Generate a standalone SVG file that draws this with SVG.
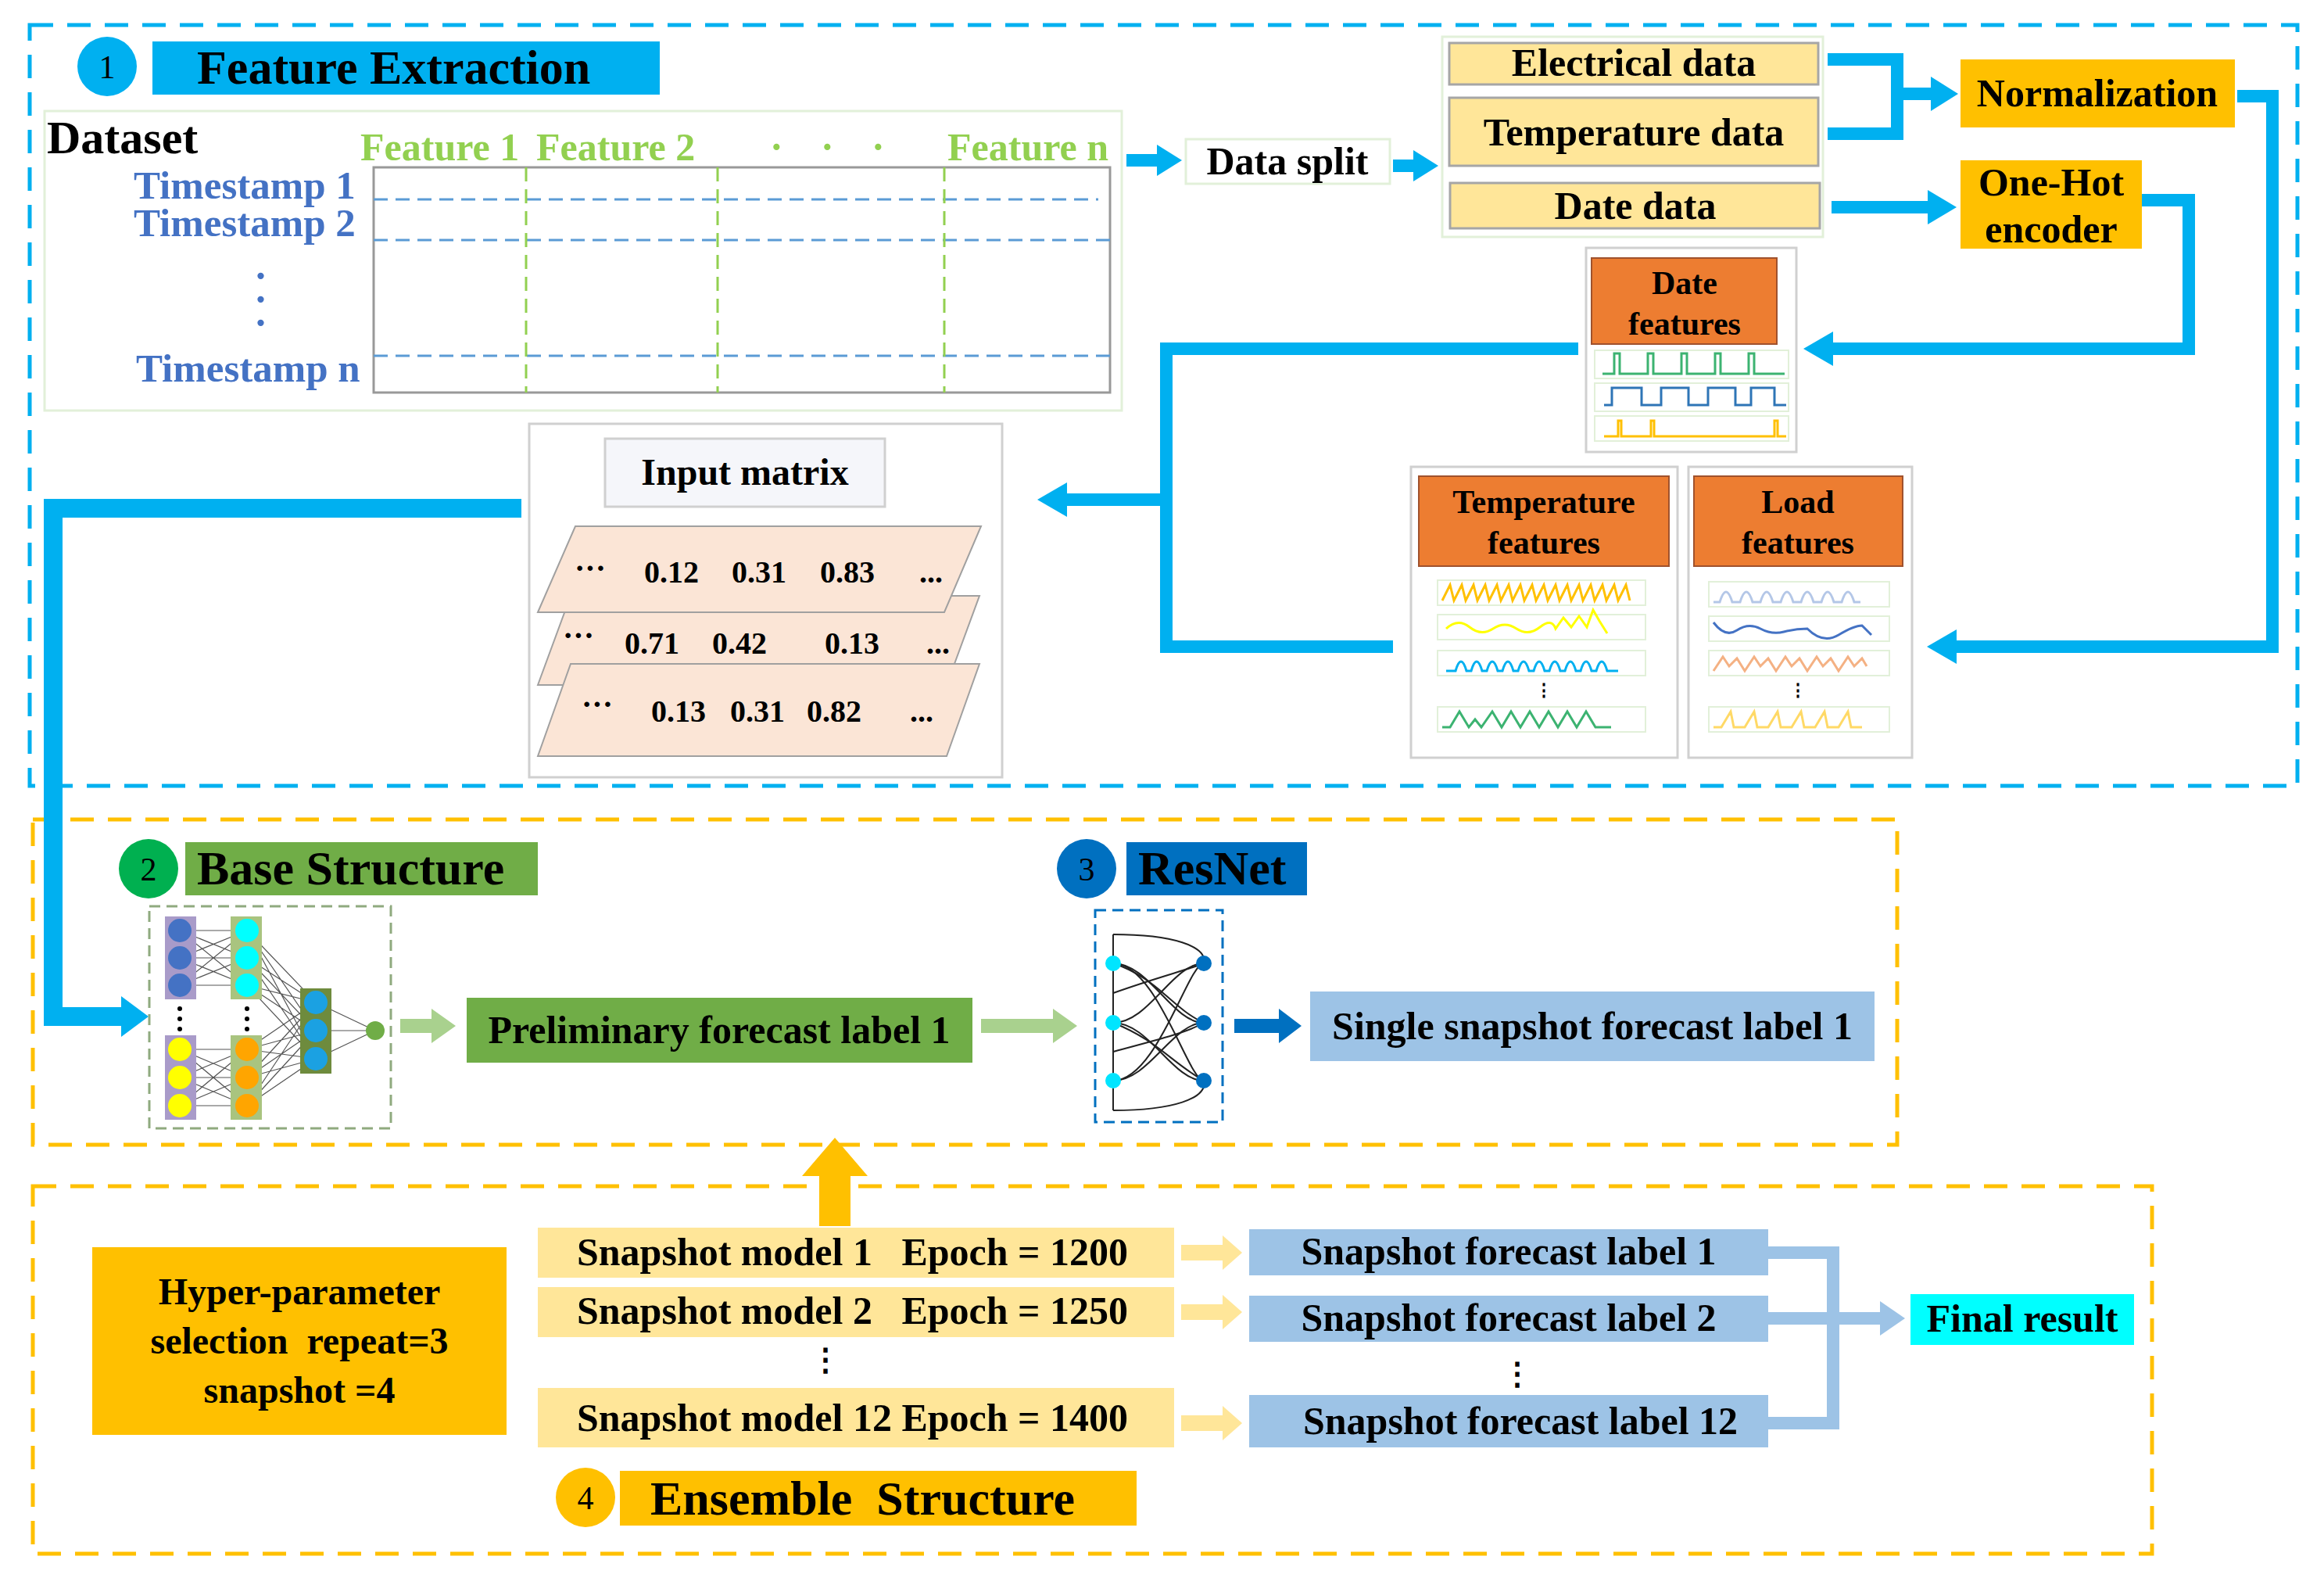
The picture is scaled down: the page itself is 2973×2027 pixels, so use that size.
<svg xmlns="http://www.w3.org/2000/svg" width="2973" height="2027" viewBox="0 0 2973 2027">
<style>
text{font-family:"Liberation Serif","Times New Roman",serif;font-weight:bold;fill:#000}
.lbl{font-size:50px;text-anchor:middle}
.hdr{font-size:62px}
.num{font-size:42px;font-weight:normal;text-anchor:middle}
.ts{font-size:51px;fill:#4472C4}
.ft{font-size:50px;fill:#92D050}
.mx{font-size:40px;text-anchor:middle}
.blue{fill:none;stroke:#00B0F0;stroke-width:16}
.bh{fill:#00B0F0}
.panel{fill:#fff;stroke:#D0D0D0;stroke-width:3}
.wbox{fill:#fff;stroke:#E2F0D9;stroke-width:2}
.w{fill:none;stroke-width:3}
.nn{stroke:#555;stroke-width:1.2}
</style>
<rect width="2973" height="2027" fill="#fff"/>

<!-- section frames -->
<rect x="38" y="32" width="2901" height="973" fill="none" stroke="#00B0F0" stroke-width="5" stroke-dasharray="30,18"/>
<rect x="42" y="1048" width="2385" height="416" fill="none" stroke="#FFC000" stroke-width="5" stroke-dasharray="30,18"/>
<rect x="42" y="1517" width="2711" height="470" fill="none" stroke="#FFC000" stroke-width="5" stroke-dasharray="30,18"/>

<!-- headers -->
<g id="hdr1"><circle cx="137" cy="85" r="38" fill="#00B0F0"/><text class="num" x="137" y="100">1</text>
<rect x="195" y="53" width="649" height="68" fill="#00B0F0"/><text class="hdr" x="252" y="107">Feature Extraction</text></g>
<g id="hdr2"><circle cx="190" cy="1111" r="38" fill="#00B050"/><text class="num" x="190" y="1126">2</text>
<rect x="237" y="1077" width="451" height="68" fill="#70AD47"/><text class="hdr" x="252" y="1131">Base Structure</text></g>
<g id="hdr3"><circle cx="1390" cy="1111" r="38" fill="#0070C0"/><text class="num" x="1390" y="1126">3</text>
<rect x="1441" y="1077" width="231" height="68" fill="#0070C0"/><text class="hdr" x="1456" y="1131">ResNet</text></g>
<g id="hdr4"><circle cx="749" cy="1915" r="38" fill="#FFC000"/><text class="num" x="749" y="1930">4</text>
<rect x="793" y="1881" width="661" height="70" fill="#FFC000"/><text class="hdr" x="832" y="1937" xml:space="preserve">Ensemble  Structure</text></g>

<!-- dataset -->
<g id="dataset">
<rect x="57" y="142" width="1378" height="383" fill="#fff" stroke="#E2F0D9" stroke-width="3"/>
<text x="60" y="196" style="font-size:60px">Dataset</text>
<text class="ft" x="461" y="205">Feature 1</text>
<text class="ft" x="686" y="205">Feature 2</text>
<text class="ft" x="985" y="205">·</text><text class="ft" x="1050" y="205">·</text><text class="ft" x="1115" y="205">·</text>
<text class="ft" x="1212" y="205">Feature n</text>
<text class="ts" x="171" y="254">Timestamp 1</text>
<text class="ts" x="171" y="302">Timestamp 2</text>
<text class="ts" x="325" y="370">·</text><text class="ts" x="325" y="400">·</text><text class="ts" x="325" y="430">·</text>
<text class="ts" x="174" y="488">Timestamp n</text>
<rect x="478" y="214" width="942" height="288" fill="#fff" stroke="#999" stroke-width="3"/>
<g stroke="#5B9BD5" stroke-width="3" stroke-dasharray="18,10">
<line x1="478" y1="255" x2="1405" y2="255"/><line x1="478" y1="307" x2="1420" y2="307"/><line x1="478" y1="455" x2="1420" y2="455"/></g>
<g stroke="#92D050" stroke-width="3" stroke-dasharray="18,10">
<line x1="673" y1="214" x2="673" y2="502"/><line x1="918" y1="214" x2="918" y2="502"/><line x1="1208" y1="214" x2="1208" y2="502"/></g>
</g>

<g id="datasplit"><rect x="1517" y="178" width="261" height="57" fill="#fff" stroke="#E2F0D9" stroke-width="3"/><text class="lbl" x="1647" y="223">Data split</text></g>

<g id="datagroup">
<rect x="1845" y="47" width="487" height="256" fill="#fff" stroke="#E2F0D9" stroke-width="3"/>
<rect x="1854" y="55" width="472" height="53" fill="#FFE699" stroke="#A6A6A6" stroke-width="3"/><text class="lbl" x="2090" y="97">Electrical data</text>
<rect x="1854" y="125" width="472" height="87" fill="#FFE699" stroke="#A6A6A6" stroke-width="3"/><text class="lbl" x="2090" y="186">Temperature data</text>
<rect x="1855" y="234" width="473" height="58" fill="#FFE699" stroke="#A6A6A6" stroke-width="3"/><text class="lbl" x="2092" y="280">Date data</text>
</g>

<g id="normalization"><rect x="2508" y="76" width="351" height="87" fill="#FFC000"/><text class="lbl" x="2683" y="136">Normalization</text></g>
<g id="onehot"><rect x="2508" y="205" width="232" height="113" fill="#FFC000"/><text class="lbl" x="2624" y="250">One-Hot</text><text class="lbl" x="2624" y="310">encoder</text></g>

<g id="datefeatures">
<rect class="panel" x="2029" y="317" width="269" height="261"/>
<rect x="2036" y="330" width="237" height="110" fill="#ED7D31" stroke="#A0522D" stroke-width="2"/>
<text class="lbl" x="2155" y="376" style="font-size:42px">Date</text><text class="lbl" x="2155" y="428" style="font-size:42px">features</text>
<rect class="wbox" x="2040" y="448" width="248" height="36"/><rect class="wbox" x="2040" y="490" width="248" height="36"/><rect class="wbox" x="2040" y="532" width="248" height="32"/>
<path class="w" stroke="#3CB371" d="M2050,478 H2065 V452 H2072 V478 H2108 V452 H2115 V478 H2151 V452 H2158 V478 H2194 V452 H2201 V478 H2237 V452 H2244 V478 H2283"/>
<path class="w" stroke="#2E75B6" d="M2052,518 H2062 V496 H2100 V518 H2125 V496 H2160 V518 H2185 V496 H2220 V518 H2240 V496 H2270 V518 H2285"/>
<path class="w" stroke="#FFC000" d="M2052,558 H2070 V538 H2074 V558 H2112 V538 H2116 V558 H2270 V538 H2274 V558 H2285"/>
</g>

<g id="tempfeatures">
<rect class="panel" x="1805" y="597" width="341" height="372"/>
<rect x="1815" y="609" width="320" height="115" fill="#ED7D31" stroke="#A0522D" stroke-width="2"/>
<text class="lbl" x="1975" y="656" style="font-size:42px">Temperature</text><text class="lbl" x="1975" y="708" style="font-size:42px">features</text>
<rect class="wbox" x="1839" y="742" width="266" height="32"/><rect class="wbox" x="1839" y="786" width="266" height="32"/><rect class="wbox" x="1839" y="832" width="266" height="32"/><rect class="wbox" x="1839" y="904" width="266" height="32"/>
<path class="w" stroke="#FFC000" d="M1845,768 l10,-20 l5,20 l10,-20 l5,20 l10,-20 l5,20 l10,-20 l5,20 l10,-20 l5,20 l10,-20 l5,20 l10,-20 l5,20 l10,-20 l5,20 l10,-20 l5,20 l10,-20 l5,20 l10,-20 l5,20 l10,-20 l5,20 l10,-20 l5,20 l10,-20 l5,20 l10,-20 l5,20 l10,-20 l5,20"/>
<path class="w" stroke="#FFFF00" d="M1850,804 q15,-14 30,-2 t30,2 t30,0 t30,-2 t20,2 l10,-14 l10,12 l10,-14 l10,14 l8,-22 l8,14 l10,16"/>
<path class="w" stroke="#00B0F0" d="M1850,858 h12 q7,-24 14,0 h6 q7,-24 14,0 h6 q7,-24 14,0 h6 q7,-24 14,0 h6 q7,-24 14,0 h6 q7,-24 14,0 h6 q7,-24 14,0 h6 q7,-24 14,0 h6 q7,-24 14,0 h6 q7,-24 14,0 h14"/>
<text x="1975" y="890" style="font-size:22px;text-anchor:middle">⋮</text>
<path class="w" stroke="#3CB371" d="M1845,930 h10 l12,-20 l12,20 l8,-10 l8,10 l14,-20 l12,20 l12,-20 l12,20 l12,-20 l12,20 l12,-20 l12,20 l12,-20 l12,20 l12,-20 l12,20 h20"/>
</g>

<g id="loadfeatures">
<rect class="panel" x="2160" y="597" width="286" height="372"/>
<rect x="2167" y="609" width="267" height="115" fill="#ED7D31" stroke="#A0522D" stroke-width="2"/>
<text class="lbl" x="2300" y="656" style="font-size:42px">Load</text><text class="lbl" x="2300" y="708" style="font-size:42px">features</text>
<rect class="wbox" x="2186" y="744" width="231" height="32"/><rect class="wbox" x="2186" y="788" width="231" height="32"/><rect class="wbox" x="2186" y="832" width="231" height="32"/><rect class="wbox" x="2186" y="904" width="231" height="32"/>
<path class="w" stroke="#B4C7E7" d="M2192,770 h8 q8,-26 16,0 h10 q8,-26 16,0 h10 q8,-26 16,0 h10 q8,-26 16,0 h10 q8,-26 16,0 h10 q8,-26 16,0 h10 q8,-26 16,0 h8"/>
<path class="w" stroke="#4472C4" d="M2192,796 q15,20 30,10 t30,-2 t30,4 t30,-4 q20,20 40,8 t30,-12 l12,12"/>
<path class="w" stroke="#F4B183" d="M2192,858 l12,-18 l8,12 l10,-10 l10,16 l12,-18 l8,12 l10,-10 l10,16 l12,-18 l8,12 l10,-10 l10,16 l12,-18 l8,12 l10,-10 l10,16 l12,-18 l8,12 l10,-10 l6,10"/>
<text x="2300" y="890" style="font-size:22px;text-anchor:middle">⋮</text>
<path class="w" stroke="#FFD966" d="M2192,930 h10 l12,-20 l4,20 h14 l12,-20 l4,20 h14 l12,-20 l4,20 h14 l12,-20 l4,20 h14 l12,-20 l4,20 h14 l12,-20 l4,20 h14"/>
</g>

<g id="inputmatrix">
<rect class="panel" x="677" y="542" width="605" height="452"/>
<rect x="774" y="561" width="358" height="87" fill="#F5F6FA" stroke="#D0D0D0" stroke-width="3"/>
<text class="lbl" x="953" y="620" style="font-size:48px">Input matrix</text>
<polygon points="688,876 730,762 1253,762 1211,876" fill="#FBE5D6" stroke="#A0A0A0" stroke-width="2"/>
<polygon points="688,967 730,849 1253,849 1211,967" fill="#FBE5D6" stroke="#A0A0A0" stroke-width="2"/>
<polygon points="688,783 736,673 1255,673 1208,783" fill="#FBE5D6" stroke="#A0A0A0" stroke-width="2"/>
<text class="mx" x="755" y="740">···</text><text class="mx" x="859" y="745">0.12</text><text class="mx" x="971" y="745">0.31</text><text class="mx" x="1084" y="745">0.83</text><text class="mx" x="1191" y="745">...</text>
<text class="mx" x="740" y="826">···</text><text class="mx" x="834" y="836">0.71</text><text class="mx" x="946" y="836">0.42</text><text class="mx" x="1090" y="836">0.13</text><text class="mx" x="1200" y="836">...</text>
<text class="mx" x="764" y="914">···</text><text class="mx" x="868" y="923">0.13</text><text class="mx" x="969" y="923">0.31</text><text class="mx" x="1067" y="923">0.82</text><text class="mx" x="1179" y="923">...</text>
</g>

<!-- base NN -->
<g id="basenn">
<rect x="191" y="1159" width="309" height="284" fill="#fff" stroke="#8FAA7F" stroke-width="3" stroke-dasharray="14,8"/>
<g class="nn">
<path d="M230,1190 L316,1190 M230,1190 L316,1225 M230,1190 L316,1260 M230,1225 L316,1190 M230,1225 L316,1225 M230,1225 L316,1260 M230,1260 L316,1190 M230,1260 L316,1225 M230,1260 L316,1260"/>
<path d="M230,1342 L316,1342 M230,1342 L316,1378 M230,1342 L316,1414 M230,1378 L316,1342 M230,1378 L316,1378 M230,1378 L316,1414 M230,1414 L316,1342 M230,1414 L316,1378 M230,1414 L316,1414"/>
<path d="M316,1190 L404,1282 M316,1190 L404,1318 M316,1190 L404,1354 M316,1225 L404,1282 M316,1225 L404,1318 M316,1225 L404,1354 M316,1260 L404,1282 M316,1260 L404,1318 M316,1260 L404,1354 M316,1342 L404,1282 M316,1342 L404,1318 M316,1342 L404,1354 M316,1378 L404,1282 M316,1378 L404,1318 M316,1378 L404,1354 M316,1414 L404,1282 M316,1414 L404,1318 M316,1414 L404,1354"/>
<path d="M404,1282 L480,1318 M404,1318 L480,1318 M404,1354 L480,1318"/>
</g>
<rect x="211" y="1172" width="40" height="106" fill="#A99BC9"/><rect x="211" y="1324" width="40" height="108" fill="#A99BC9"/>
<rect x="295" y="1172" width="40" height="106" fill="#A9C47F"/><rect x="295" y="1324" width="40" height="108" fill="#A9C47F"/>
<rect x="384" y="1264" width="40" height="109" fill="#6E8B3D"/>
<g fill="#4472C4"><circle cx="230" cy="1190" r="15"/><circle cx="230" cy="1225" r="15"/><circle cx="230" cy="1260" r="15"/></g>
<g fill="#FFFF00"><circle cx="230" cy="1342" r="15"/><circle cx="230" cy="1378" r="15"/><circle cx="230" cy="1414" r="15"/></g>
<g fill="#00FFFF"><circle cx="316" cy="1190" r="15"/><circle cx="316" cy="1225" r="15"/><circle cx="316" cy="1260" r="15"/></g>
<g fill="#FFA500"><circle cx="316" cy="1342" r="15"/><circle cx="316" cy="1378" r="15"/><circle cx="316" cy="1414" r="15"/></g>
<g fill="#1BA1E2"><circle cx="404" cy="1282" r="15"/><circle cx="404" cy="1318" r="15"/><circle cx="404" cy="1354" r="15"/></g>
<circle cx="480" cy="1318" r="12" fill="#70AD47"/>
<g fill="#000"><circle cx="230" cy="1290" r="3"/><circle cx="230" cy="1303" r="3"/><circle cx="230" cy="1316" r="3"/><circle cx="316" cy="1290" r="3"/><circle cx="316" cy="1303" r="3"/><circle cx="316" cy="1316" r="3"/></g>
</g>

<g id="prelim"><rect x="597" y="1276" width="647" height="83" fill="#70AD47"/><text class="lbl" x="920" y="1334">Preliminary forecast label 1</text></g>

<g id="resnet">
<rect x="1401" y="1164" width="163" height="271" fill="#fff" stroke="#0070C0" stroke-width="3" stroke-dasharray="14,8"/>
<g fill="none" stroke="#222" stroke-width="2">
<line x1="1424" y1="1195" x2="1424" y2="1420"/>
<path d="M1424,1195 C1500,1195 1545,1210 1540,1232"/>
<path d="M1424,1420 C1500,1420 1545,1405 1540,1382"/>
<path d="M1424,1232 C1470,1232 1500,1308 1540,1308"/>
<path d="M1424,1232 C1480,1232 1520,1382 1540,1382"/>
<path d="M1424,1308 C1470,1308 1500,1232 1540,1232"/>
<path d="M1424,1308 C1470,1308 1500,1382 1540,1382"/>
<path d="M1424,1382 C1470,1382 1500,1308 1540,1308"/>
<path d="M1424,1382 C1480,1382 1520,1232 1540,1232"/>
<path d="M1424,1232 C1480,1250 1500,1290 1540,1308"/>
<path d="M1424,1308 C1480,1330 1500,1360 1540,1382"/>
<path d="M1424,1270 C1480,1250 1520,1240 1540,1232"/>
<path d="M1424,1345 C1480,1330 1520,1320 1540,1308"/>
</g>
<g fill="#00E5FF"><circle cx="1424" cy="1232" r="10"/><circle cx="1424" cy="1308" r="10"/><circle cx="1424" cy="1382" r="10"/></g>
<g fill="#0070C0"><circle cx="1540" cy="1232" r="10"/><circle cx="1540" cy="1308" r="10"/><circle cx="1540" cy="1382" r="10"/></g>
</g>

<g id="single"><rect x="1676" y="1268" width="722" height="89" fill="#9DC3E6"/><text class="lbl" x="2037" y="1329">Single snapshot forecast label 1</text></g>

<g id="hyper"><rect x="118" y="1595" width="530" height="240" fill="#FFC000"/>
<text class="lbl" x="383" y="1668" style="font-size:48px">Hyper-parameter</text>
<text class="lbl" x="383" y="1731" style="font-size:48px" xml:space="preserve">selection  repeat=3</text>
<text class="lbl" x="383" y="1794" style="font-size:48px">snapshot =4</text></g>

<g id="models">
<rect x="688" y="1570" width="814" height="64" fill="#FFE699"/><text x="738" y="1618" style="font-size:50px" xml:space="preserve">Snapshot model 1   Epoch = 1200</text>
<rect x="688" y="1646" width="814" height="64" fill="#FFE699"/><text x="738" y="1693" style="font-size:50px" xml:space="preserve">Snapshot model 2   Epoch = 1250</text>
<text x="1056" y="1752" style="font-size:40px;text-anchor:middle">⋮</text>
<rect x="688" y="1775" width="814" height="76" fill="#FFE699"/><text x="738" y="1830" style="font-size:50px">Snapshot model 12 Epoch = 1400</text>
</g>

<g id="labels">
<rect x="1598" y="1572" width="664" height="59" fill="#9DC3E6"/><text class="lbl" x="1930" y="1617" style="font-size:50px">Snapshot forecast label 1</text>
<rect x="1598" y="1657" width="664" height="59" fill="#9DC3E6"/><text class="lbl" x="1930" y="1702" style="font-size:50px">Snapshot forecast label 2</text>
<text x="1941" y="1770" style="font-size:40px;text-anchor:middle">⋮</text>
<rect x="1598" y="1784" width="664" height="67" fill="#9DC3E6"/><text class="lbl" x="1945" y="1834" style="font-size:50px">Snapshot forecast label 12</text>
</g>

<g id="final"><rect x="2444" y="1655" width="286" height="65" fill="#00FFFF"/><text class="lbl" x="2587" y="1703" style="font-size:50px">Final result</text></g>

<!-- connectors -->
<g id="connectors">
<path class="blue" d="M1441,205 H1484"/><polygon class="bh" points="1480,185 1512,205 1480,225"/>
<path class="blue" d="M1782,212 H1812"/><polygon class="bh" points="1808,192 1840,212 1808,232"/>
<path class="blue" d="M2338,76 H2427 V171 H2338 M2427,120 H2475"/><polygon class="bh" points="2470,98 2505,120 2470,142"/>
<path class="blue" d="M2343,265 H2470"/><polygon class="bh" points="2466,243 2503,265 2466,287"/>
<path class="blue" d="M2740,256 H2800 V446 H2340"/><polygon class="bh" points="2345,424 2307,446 2345,468"/>
<path class="blue" d="M2862,123 H2907 V827 H2500"/><polygon class="bh" points="2503,805 2465,827 2503,849"/>
<path class="blue" d="M2019,446 H1492 V827 H1782 M1492,639 H1360"/><polygon class="bh" points="1365,617 1327,639 1365,661"/>
<path class="blue" style="stroke-width:24" d="M667,650 H68 V1300 H160"/><polygon class="bh" points="155,1274 190,1300 155,1326"/>
<path fill="none" stroke="#A9D18E" stroke-width="18" d="M512,1312 H555"/><polygon fill="#A9D18E" points="552,1290 583,1312 552,1334"/>
<path fill="none" stroke="#A9D18E" stroke-width="18" d="M1255,1312 H1350"/><polygon fill="#A9D18E" points="1347,1290 1378,1312 1347,1334"/>
<path fill="none" stroke="#0070C0" stroke-width="18" d="M1579,1312 H1640"/><polygon fill="#0070C0" points="1636,1290 1665,1312 1636,1334"/>
<path fill="none" stroke="#FFC000" stroke-width="40" d="M1068,1568 V1500"/><polygon fill="#FFC000" points="1026,1504 1068,1455 1110,1504"/>
<g fill="#FFE699">
<rect x="1511" y="1592" width="55" height="20"/><polygon points="1564,1580 1589,1602 1564,1624"/>
<rect x="1511" y="1668" width="55" height="20"/><polygon points="1564,1656 1589,1678 1564,1700"/>
<rect x="1511" y="1810" width="55" height="20"/><polygon points="1564,1798 1589,1820 1564,1842"/>
</g>
<path fill="none" stroke="#9DC3E6" stroke-width="16" d="M2262,1602 H2345 V1820 H2262 M2262,1686 H2410"/><polygon fill="#9DC3E6" points="2405,1664 2437,1686 2405,1708"/>
</g>
</svg>
